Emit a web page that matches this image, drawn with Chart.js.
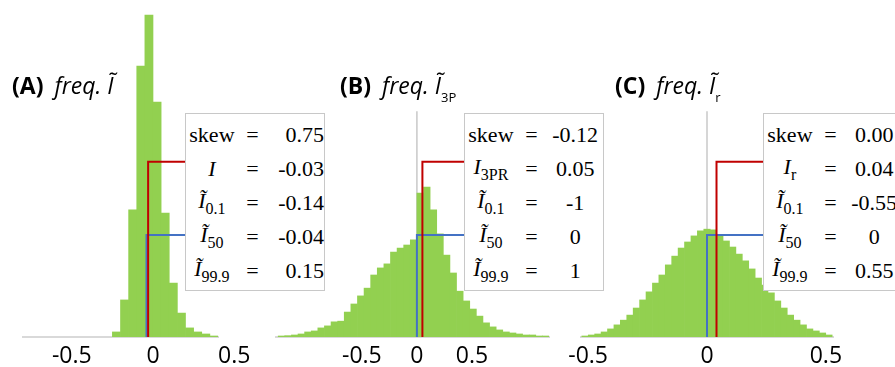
<!DOCTYPE html>
<html>
<head>
<meta charset="utf-8">
<script src="https://cdn.jsdelivr.net/npm/chart.js@4.4.0/dist/chart.umd.min.js"></script>
<style>
body { margin:0; width:895px; height:367px; overflow:hidden; background:#fff; position:relative; }
canvas { position:absolute; top:0; }
.title { position:absolute; top:70px; font-family:"Open Sans", sans-serif; font-size:23px; line-height:30px; white-space:nowrap; color:#000; z-index:3; }
.title b { font-weight:700; margin-right:5px; }
.title i { font-style:italic; }
.title sub { font-size:13px; font-style:normal; vertical-align:-8px; }
.stats { position:absolute; top:113px; width:138px; height:176px; background:#fff; border:1px solid #c8c8c8; font-family:"Liberation Serif", "Times New Roman", Times, serif; font-size:22px; color:#000; z-index:2; }
.stats table { border-collapse:collapse; margin-top:4px; margin-left:1px; }
.stats td { height:34px; padding:0; text-align:center; white-space:nowrap; }
.stats td.n { width:50px; }
.stats td.e { width:32px; }
.stats td.v { width:56px; }
.stats sub { font-size:16px; font-style:normal; vertical-align:-6px; }
</style>
</head>
<body>
<script>
// histogram bin centres and frequencies (0-100 scale shared by the three panels)
const binsA = [-0.225, -0.175, -0.125, -0.075, -0.025, 0.025, 0.075, 0.125, 0.175, 0.225, 0.275, 0.325, 0.375];
const freqA = [1.5, 11, 37.7, 80.4, 95.5, 69.7, 36.8, 16, 7.1, 2.7, 1.5, 0.9, 0.3];

const binsB = [-1.23, -1.17, -1.11, -1.05, -0.99, -0.93, -0.87, -0.81, -0.75, -0.69, -0.63, -0.57, -0.51, -0.45, -0.39, -0.33, -0.27, -0.21, -0.15, -0.09, -0.03,
  0.03, 0.09, 0.15, 0.21, 0.27, 0.33, 0.39, 0.45, 0.51, 0.57, 0.63, 0.69, 0.75, 0.81, 0.87, 0.93, 0.99, 1.05, 1.11, 1.17];
const freqB = [0.3, 0.4, 0.6, 0.9, 1.5, 1.8, 2.7, 3.3, 4.5, 4.7, 7.4, 9.8, 12.2, 14.5, 18.4, 20.5, 21.7, 25.2, 26.4, 27.3, 28.8,
  42.7, 44.5, 37.7, 30.6, 24.3, 19, 13.6, 10.7, 8.3, 6.2, 4.2, 3, 2.1, 1.5, 1.2, 0.9, 0.6, 0.6, 0.3, 0.3];

const binsC = [-0.513, -0.486, -0.459, -0.432, -0.405, -0.378, -0.351, -0.324, -0.297, -0.27, -0.243, -0.216, -0.189, -0.162, -0.135, -0.108, -0.081, -0.054, -0.027,
  0, 0.027, 0.054, 0.081, 0.108, 0.135, 0.162, 0.189, 0.216, 0.243, 0.27, 0.297, 0.324, 0.351, 0.378, 0.405, 0.432, 0.459, 0.486, 0.513];
const freqC = [0.3, 0.6, 0.9, 1.5, 2.4, 3.6, 5, 6.5, 8.6, 11, 13.4, 16, 18.4, 21.4, 24, 26.4, 28.2, 30, 31.5,
  32, 31.8, 30.3, 28.5, 26.7, 24.6, 22.6, 20.2, 17.5, 15.4, 13.1, 10.7, 8.6, 6.5, 5, 3.6, 2.4, 1.8, 1.2, 0.6];

const tickValues = [-0.5, 0, 0.5];

const panelLetters = ['(A)', '(B)', '(C)'];
const titleSubs = ['', '3P', 'r'];
const meanNames = ['', '3PR', 'r'];
const skewVals = ['0.75', '-0.12', '0.00'];
const meanVals = ['-0.03', '0.05', '0.04'];
const q01Vals = ['-0.14', '-1', '-0.55'];
const q50Vals = ['-0.04', '0', '0'];
const q999Vals = ['0.15', '1', '0.55'];

// layout
const PAD = 45;
const CANVAS_H = 367;
const AXIS_H = 30;
const panels = [
  { left: 23, width: 195, min: -0.8, max: 0.4, titleLeft: 12, boxLeft: 185, valAlign: 'right', bins: binsA, freq: freqA },
  { left: 276, width: 273, min: -1.28, max: 1.2, titleLeft: 340, boxLeft: 464, valAlign: 'center', bins: binsB, freq: freqB },
  { left: 581, width: 252, min: -0.53, max: 0.53, titleLeft: 615, boxLeft: 763, valAlign: 'center', bins: binsC, freq: freqC }
];
const zeroLineTop = 67;
const meanLevel = 52;
const medianLevel = 30.3;

const connectorPlugin = {
  id: 'connectors',
  afterDatasetsDraw(chart, args, opts) {
    const {ctx, scales: {x, y}} = chart;
    opts.lines.forEach(l => {
      let px = x.getPixelForValue(l.value);
      let py = y.getPixelForValue(l.level);
      ctx.save();
      ctx.strokeStyle = l.color;
      ctx.lineWidth = 2;
      ctx.beginPath();
      ctx.moveTo(px, y.getPixelForValue(0));
      ctx.lineTo(px, py);
      ctx.lineTo(chart.width, py);
      ctx.stroke();
      ctx.restore();
    });
  }
};

function dibujarPanel(i) {
  let p = panels[i];
  let canvas = document.createElement('canvas');
  canvas.width = p.width + 2 * PAD;
  canvas.height = CANVAS_H;
  canvas.style.left = (p.left - PAD) + 'px';
  document.body.appendChild(canvas);

  new Chart(canvas.getContext('2d'), {
    type: 'bar',
    data: {
      datasets: [{
        type: 'bar',
        data: p.bins.map((b, j) => ({x: b, y: p.freq[j]})),
        backgroundColor: '#92d050',
        borderWidth: 0,
        barPercentage: 1,
        categoryPercentage: 1,
        order: 2
      }, {
        type: 'line',
        data: [{x: 0, y: 0}, {x: 0, y: zeroLineTop}],
        borderColor: '#c8c8c8',
        borderWidth: 1.5,
        pointRadius: 0,
        order: 3
      }]
    },
    options: {
      responsive: false,
      animation: false,
      layout: {padding: {left: PAD, right: PAD, top: 0, bottom: 0}},
      plugins: {
        legend: {display: false},
        tooltip: {enabled: false},
        connectors: {
          lines: [
            {value: parseFloat(q50Vals[i]), level: medianLevel, color: '#4472c4'},
            {value: parseFloat(meanVals[i]), level: meanLevel, color: '#c00000'}
          ]
        }
      },
      scales: {
        x: {
          type: 'linear',
          min: p.min,
          max: p.max,
          offset: false,
          grid: {display: false, drawTicks: false},
          border: {display: true, color: '#d9d9d9', width: 2},
          afterBuildTicks: axis => { axis.ticks = tickValues.map(v => ({value: v})); },
          afterFit: axis => { axis.height = AXIS_H; },
          ticks: {
            autoSkip: false,
            maxRotation: 0,
            padding: 6,
            color: '#000',
            font: {family: 'Open Sans', size: 23},
            callback: v => String(v)
          }
        },
        y: {display: false, min: 0, max: 100}
      }
    },
    plugins: [connectorPlugin]
  });

  let title = document.createElement('div');
  title.className = 'title';
  title.style.left = p.titleLeft + 'px';
  title.innerHTML = `<b>${panelLetters[i]}</b> <i>freq. Ĩ</i>` + (titleSubs[i] ? `<sub>${titleSubs[i]}</sub>` : '');
  document.body.appendChild(title);

  let meanLabel = '<i>I</i>' + (meanNames[i] ? `<sub>${meanNames[i]}</sub>` : '');
  let filas = [
    ['skew', skewVals[i]],
    [meanLabel, meanVals[i]],
    ['<i>Ĩ</i><sub>0.1</sub>', q01Vals[i]],
    ['<i>Ĩ</i><sub>50</sub>', q50Vals[i]],
    ['<i>Ĩ</i><sub>99.9</sub>', q999Vals[i]]
  ];
  let box = document.createElement('div');
  box.className = 'stats';
  box.style.left = p.boxLeft + 'px';
  box.innerHTML = '<table>' + filas.map(f =>
    `<tr><td class="n">${f[0]}</td><td class="e">=</td><td class="v" style="text-align:${p.valAlign}">${f[1]}</td></tr>`).join('') + '</table>';
  document.body.appendChild(box);
}

panels.forEach((p, i) => dibujarPanel(i));
</script>
</body>
</html>
